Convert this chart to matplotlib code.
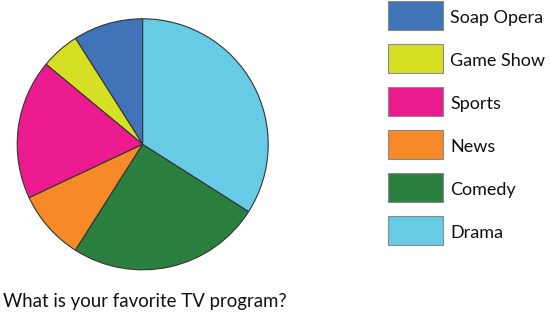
import matplotlib
matplotlib.use("Agg")
import matplotlib.pyplot as plt
from matplotlib.patches import Rectangle

# favorite TV program survey, percent
programs = ["Soap Opera", "Game Show", "Sports", "News", "Comedy", "Drama"]
shares = [9, 5, 18, 9, 25, 34]
colors = ["#4073b8", "#d5e025", "#ec1a8f", "#f68a28", "#2b8040", "#68cbe6"]
question = "What is your favorite TV program?"

plt.rcParams['font.family'] = ['Lato', 'DejaVu Sans']

W, H = 551, 313
fig = plt.figure(figsize=(W / 100, H / 100), dpi=100)

# pie: center (142.7, 144.3) px from top, radius 125.5 px
cx, cy, r = 142.7, 144.3, 125.5
ax = fig.add_axes([(cx - r) / W, (H - cy - r) / H, 2 * r / W, 2 * r / H])
ax.pie(shares, colors=colors, startangle=90, counterclock=True,
       wedgeprops=dict(edgecolor="#333333", linewidth=0.8))
ax.set_xlim(-1.0, 1.0)
ax.set_ylim(-1.0, 1.0)
ax.set_axis_off()

# legend + title in pixel coords
lg = fig.add_axes([0, 0, 1, 1])
lg.set_xlim(0, W)
lg.set_ylim(H, 0)
lg.set_axis_off()

for i, (name, c) in enumerate(zip(programs, colors)):
    top = 43 * i
    lg.add_patch(Rectangle((388, top + 0.5), 55, 29, facecolor=c,
                           edgecolor="#8a8a8a", linewidth=0.8))
    lg.text(450, top + 23, name, fontsize=13, va="baseline", ha="left",
            color="#111111")

lg.text(3, 306.7, question, fontsize=13.4, va="baseline", ha="left",
        color="#111111")

fig.savefig("out.png", dpi=100)
